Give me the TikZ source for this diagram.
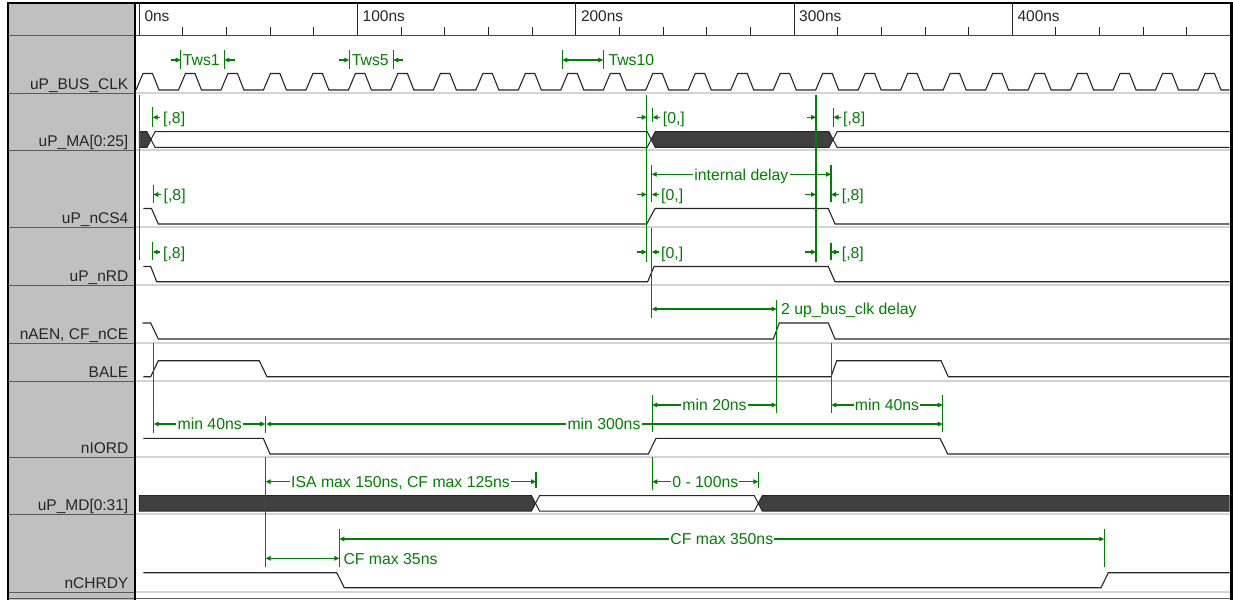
\documentclass[tikz,border=0pt]{standalone}
\usepackage{fontspec}
\setmainfont{Liberation Sans}
\usetikzlibrary{arrows.meta}
\definecolor{grn}{HTML}{008000}
\definecolor{panelgray}{HTML}{C0C0C0}
\definecolor{busdark}{HTML}{404040}
\definecolor{sigc}{HTML}{262626}
\definecolor{rowline}{HTML}{D4D4D4}
\definecolor{panelline}{HTML}{5A5A5A}
\newcommand\gfont{\fontsize{15.8}{18}\selectfont}
\newcommand\lfont{\fontsize{15.5}{18}\selectfont}
\begin{document}
\begin{tikzpicture}[x=1pt,y=-1pt,
  sig/.style={draw=sigc,line width=1.1pt,line join=miter},
  bus/.style={draw=sigc,line width=1pt},
  gline/.style={draw=grn,line width=1.1pt},
  gar/.style={gline,-{Triangle[length=5pt,width=4.6pt]}},
  dimln/.style={gline,{Triangle[length=5pt,width=4.6pt]}-{Triangle[length=5pt,width=4.6pt]}},
  gtxt/.style={text=grn,font=\gfont,inner sep=0pt,anchor=base west},
  mtxt/.style={text=grn,font=\gfont,inner sep=1.2pt,fill=white,anchor=base},
  lbl/.style={text=sigc,font=\lfont,inner sep=0pt,anchor=base east},
  hdr/.style={text=sigc,font=\lfont,inner sep=0pt,anchor=base west}]
\useasboundingbox (0,0) rectangle (1233,600);
\fill[white] (0,0) rectangle (1233,600);
% panel
\fill[panelgray] (9.3,4) rectangle (135,600);
% row dividers
\foreach \y in {93,150,227,285,343,381,457,514,592}{
  \draw[rowline,line width=1.6pt] (135.7,\y) -- (1230,\y);
  \draw[panelline,line width=0.9pt] (9.3,\y) -- (135,\y);
}
\draw[panelline,line width=0.9pt] (9.3,35) -- (135,35);
\draw[sigc!85,line width=1pt] (135,35) -- (1230,35);
\draw[panelline,line width=1pt] (9.3,598) -- (1230,598);
\draw[black,line width=1.2pt] (135,4) -- (135,600);
% header ticks
\foreach \k in {0,...,4}{
  \draw[sigc,line width=1pt] ({139.3+218.25*\k},4) -- ({139.3+218.25*\k},35);
  \foreach \j in {1,...,4}
    \draw[sigc,line width=1pt] ({139.3+218.25*\k+43.65*\j},27) -- ({139.3+218.25*\k+43.65*\j},35);
}
\node[hdr] (h0) at (144.3,21) {0ns};
\node[hdr] (h1) at (362.5,21) {100ns};
\node[hdr] (h2) at (580.8,21) {200ns};
\node[hdr] (h3) at (799,21) {300ns};
\node[hdr] (h4) at (1017.3,21) {400ns};
% labels
\node[lbl] (lclk) at (128.5,89.5) {uP\_BUS\_CLK};
\node[lbl] (lma) at (128.5,146.5) {uP\_MA[0:25]};
\node[lbl] (lcs) at (128.5,223.5) {uP\_nCS4};
\node[lbl] (lrd) at (128.5,281.5) {uP\_nRD};
\node[lbl] (laen) at (128.5,339.5) {nAEN, CF\_nCE};
\node[lbl] (lbale) at (128.5,377.5) {BALE};
\node[lbl] (liord) at (128.5,453.5) {nIORD};
\node[lbl] (lmd) at (128.5,510.5) {uP\_MD[0:31]};
\node[lbl] (lrdy) at (128.5,588.5) {nCHRDY};
% waveforms
\begin{scope}
\clip (135.7,36) rectangle (1229.5,597);
\draw[sig] (136,90) \foreach \k in {0,...,25}{
  -- ({136+42.48*\k+7},73.5) -- ({136+42.48*\k+16.5},73.5)
  -- ({136+42.48*\k+23},90) -- ({136+42.48*(\k+1)},90)};
% uP_MA
\filldraw[bus,fill=busdark] (139.3,131.7) -- (147,131.7) -- (151,139.5) -- (147,147.3) -- (139.3,147.3) -- cycle;
\draw[bus,fill=white] (151,139.5) -- (155,131.7) -- (647.2,131.7) -- (651.2,139.5) -- (647.2,147.3) -- (155,147.3) -- cycle;
\filldraw[bus,fill=busdark] (651.2,139.5) -- (655.2,131.7) -- (829,131.7) -- (833,139.5) -- (829,147.3) -- (655.2,147.3) -- cycle;
\draw[bus,fill=white] (833,139.5) -- (837,131.7) -- (1240,131.7) -- (1240,147.3) -- (837,147.3) -- cycle;
% uP_nCS4
\draw[sig] (143.3,208.5) -- (151.5,208.5) -- (158.3,224) -- (646.7,224) -- (655,208.5) -- (828.3,208.5) -- (835,224) -- (1240,224);
% uP_nRD
\draw[sig] (143.3,266.5) -- (150.7,266.5) -- (156.7,281.7) -- (647.7,281.7) -- (654,266.5) -- (828.3,266.5) -- (835,281.7) -- (1240,281.7);
% nAEN
\draw[sig] (142.7,323) -- (150.7,323) -- (158.3,339) -- (773.3,339) -- (779.3,323) -- (828.3,323) -- (835,339) -- (1240,339);
% BALE
\draw[sig] (143.3,376.7) -- (150.7,376.7) -- (158.3,360.7) -- (259.3,360.7) -- (267,376.7) -- (831,376.7) -- (836.7,360.7) -- (941,360.7) -- (948.3,376.7) -- (1240,376.7);
% nIORD
\draw[sig] (143.3,438.3) -- (263.3,438.3) -- (270,454) -- (648.3,454) -- (656,438.3) -- (940,438.3) -- (947.7,454) -- (1240,454);
% uP_MD
\filldraw[bus,fill=busdark] (139.3,495.7) -- (531.5,495.7) -- (535.5,503.3) -- (531.5,511) -- (139.3,511) -- cycle;
\draw[bus,fill=white] (535.5,503.3) -- (539.5,495.7) -- (754.3,495.7) -- (758.3,503.3) -- (754.3,511) -- (539.5,511) -- cycle;
\filldraw[bus,fill=busdark] (758.3,503.3) -- (762.3,495.7) -- (1240,495.7) -- (1240,511) -- (762.3,511) -- cycle;
% nCHRDY
\draw[sig] (143.3,572.7) -- (336.7,572.7) -- (344.3,587.7) -- (1101,587.7) -- (1108.3,572.7) -- (1240,572.7);
\end{scope}
% green reference lines
\draw[gline] (139.3,95) -- (139.3,260);
\draw[gline] (646.7,95) -- (646.7,262);
\draw[gline] (816,95) -- (816,262);
\draw[gline] (651.7,165) -- (651.7,202);
\draw[gline] (651.7,228) -- (651.7,318);
\draw[gline] (776.7,300) -- (776.7,413);
\draw[gline] (153.7,343) -- (153.7,433);
\draw[gline] (831.3,343) -- (831.3,413);
\draw[gline] (265.7,416) -- (265.7,433);
\draw[gline] (265.7,457) -- (265.7,567);
\draw[gline] (652.3,395) -- (652.3,432);
\draw[gline] (652.3,457) -- (652.3,490);
\draw[gline] (942.7,395) -- (942.7,432);
\draw[gline] (536,471.7) -- (536,488.3);
\draw[gline] (758.3,471.7) -- (758.3,488.3);
\draw[gline] (339.3,529) -- (339.3,567);
\draw[gline] (1104.3,529) -- (1104.3,567);
% bars
\draw[gline] (152.7,107) -- (152.7,127);
\draw[gline] (153.3,185) -- (153.3,203);
\draw[gline] (152.7,242) -- (152.7,260);
\draw[gline] (652.7,108) -- (652.7,122);
\draw[gline] (833.5,108) -- (833.5,127);
\draw[gline] (831,165) -- (831,202);
\draw[gline] (831,243) -- (831,260);
\foreach \x in {180.7,224.3,349.3,393.3,562.3,603.3}
  \draw[gline] (\x,50) -- (\x,69);
% clock row annotations
\draw[gar] (170.7,60) -- (180.7,60);
\draw[gar] (235,60) -- (224.3,60);
\node[gtxt] (tws1) at (182.7,65.7) {Tws1};
\draw[gar] (339.3,60) -- (349.3,60);
\draw[gar] (403.3,60) -- (393.3,60);
\node[gtxt] (tws5) at (351.7,65.7) {Tws5};
\draw[dimln] (562.3,60) -- (603.3,60);
\node[gtxt] (tws10) at (608.3,65.7) {Tws10};
% uP_MA annotations
\draw[gar] (160,117.3) -- (152.7,117.3);
\node[gtxt] (ma8a) at (163,123.7) {[,8]};
\draw[gar] (636.7,117.3) -- (646.7,117.3);
\draw[gar] (660,117.3) -- (652.7,117.3);
\node[gtxt] (ma0) at (662.7,123.7) {[0,]};
\draw[gar] (806.7,117.3) -- (816,117.3);
\draw[gar] (841,117.3) -- (833.5,117.3);
\node[gtxt] (ma8b) at (843,123.7) {[,8]};
% uP_nCS4 annotations
\draw[gar] (161,194.5) -- (153.3,194.5);
\node[gtxt] (cs8a) at (163.5,200.5) {[,8]};
\draw[gar] (636.7,194.5) -- (646.7,194.5);
\draw[gar] (659,194.5) -- (651.7,194.5);
\node[gtxt] (cs0) at (661,200.5) {[0,]};
\draw[gar] (805,194.5) -- (816,194.5);
\draw[gar] (839,194.5) -- (831,194.5);
\node[gtxt] (cs8b) at (841.7,200.5) {[,8]};
\draw[dimln] (651.7,174.3) -- (831,174.3);
\node[mtxt] (intd) at (741.4,180) {internal delay};
% uP_nRD annotations
\draw[gar] (160,252) -- (152.7,252);
\node[gtxt] (rd8a) at (163,258) {[,8]};
\draw[gar] (636.7,252) -- (646.7,252);
\draw[gar] (659,252) -- (651.7,252);
\node[gtxt] (rd0) at (661,258) {[0,]};
\draw[gar] (805,252) -- (816,252);
\draw[gar] (839,252) -- (831,252);
\node[gtxt] (rd8b) at (841.7,258) {[,8]};
% nAEN annotation
\draw[dimln] (651.7,309) -- (776.7,309);
\node[gtxt] (clkd) at (781,314.8) {2 up\_bus\_clk delay};
% nIORD annotations
\draw[dimln] (153.7,424) -- (265.2,424);
\node[mtxt] (m40a) at (209.7,429.7) {min 40ns};
\draw[dimln] (266.2,424) -- (942.7,424);
\node[mtxt] (m300) at (604,429.7) {min 300ns};
\draw[dimln] (652.3,405) -- (776.7,405);
\node[mtxt] (m20) at (714.5,410.7) {min 20ns};
\draw[dimln] (831.3,405) -- (942.7,405);
\node[mtxt] (m40b) at (887,410.7) {min 40ns};
% uP_MD annotations
\draw[dimln] (265.7,481.7) -- (536,481.7);
\node[mtxt] (isa) at (400.5,487.4) {ISA max 150ns, CF max 125ns};
\draw[dimln] (652.3,481.7) -- (758.3,481.7);
\node[mtxt] (d100) at (705.3,487.4) {0 - 100ns};
% nCHRDY annotations
\draw[dimln] (265.7,558.3) -- (339.3,558.3);
\node[gtxt] (cf35) at (343.3,564) {CF max 35ns};
\draw[dimln] (339.3,539) -- (1104.3,539);
\node[mtxt] (cf350) at (721.8,544.7) {CF max 350ns};
% borders
\fill[black] (6.7,1.5) rectangle (1233,4);
\fill[black] (6.7,1.5) rectangle (9.3,600);
\fill[black] (1230,1.5) rectangle (1233,600);
\end{tikzpicture}
\end{document}
